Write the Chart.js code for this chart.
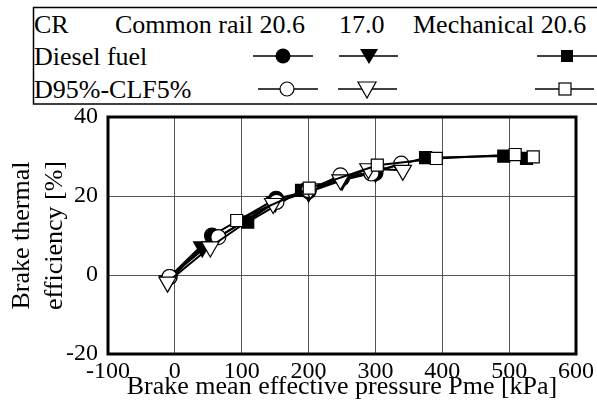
<!DOCTYPE html>
<html>
<head>
<meta charset="utf-8">
<script src="https://cdn.jsdelivr.net/npm/chart.js@4.4.0/dist/chart.umd.min.js"></script>
<style>
    html, body { margin: 0; padding: 0; background: #fff; }
    #wrap { position: relative; width: 597px; height: 403px; }
    #chart { position: absolute; left: 0; top: 0; }
    #legend { position: absolute; left: 0; top: 0; }
    #legend text { font-family: "Liberation Serif", "Times New Roman", serif; font-size: 26px; fill: #000; }
</style>
</head>
<body>
<div id="wrap">
    <canvas id="chart" width="597" height="403"></canvas>
    <svg id="legend" width="597" height="110" xmlns="http://www.w3.org/2000/svg">
        <rect x="33.5" y="7.5" width="570" height="96.5" fill="#fff" stroke="#000" stroke-width="1.5"/>
        <text x="34" y="24" dominant-baseline="central">CR</text>
        <text x="115" y="24" dominant-baseline="central">Common rail 20.6</text>
        <text x="339" y="24" dominant-baseline="central">17.0</text>
        <text x="413" y="24" dominant-baseline="central">Mechanical 20.6</text>
        <text x="34" y="56" dominant-baseline="central">Diesel fuel</text>
        <text x="34" y="89" dominant-baseline="central">D95%-CLF5%</text>
        <!-- row 2: diesel fuel samples -->
        <line x1="253" y1="56" x2="313" y2="56" stroke="#000" stroke-width="1.5"/>
        <circle cx="283" cy="56" r="7.5" fill="#000"/>
        <line x1="339" y1="56" x2="398" y2="56" stroke="#000" stroke-width="1.5"/>
        <polygon points="360,49 378,49 369,64" fill="#000"/>
        <line x1="537" y1="56" x2="597" y2="56" stroke="#000" stroke-width="1.5"/>
        <rect x="561" y="50" width="12" height="12" fill="#000"/>
        <!-- row 3: blend samples -->
        <line x1="258" y1="89" x2="318" y2="89" stroke="#000" stroke-width="1.5"/>
        <circle cx="287" cy="89" r="7" fill="#fff" stroke="#000" stroke-width="1.2"/>
        <line x1="338" y1="89" x2="397" y2="89" stroke="#000" stroke-width="1.5"/>
        <polygon points="358,82 376,82 367,98" fill="#fff" stroke="#000" stroke-width="1.2"/>
        <line x1="535" y1="89" x2="594" y2="89" stroke="#000" stroke-width="1.5"/>
        <rect x="559" y="83" width="12" height="12" fill="#fff" stroke="#000" stroke-width="1.2"/>
    </svg>
</div>
<script>
// Brake mean effective pressure [kPa] and brake thermal efficiency [%]
const dieselCrX = [-8, 55.5, 151.5, 200, 250, 300];
const dieselCrY = [-0.5, 10, 19.3, 21.2, 24.5, 25.8];
const diesel17X = [-10, 41, 150, 200, 250, 300];
const diesel17Y = [-1.5, 7.1, 18.5, 21, 24, 26];
const dieselMechX = [109, 189.5, 375, 492, 526];
const dieselMechY = [13.4, 21.4, 29.7, 30.1, 29.5];
const blendCrX = [-8, 65, 152, 200, 247.6, 294, 338.6];
const blendCrY = [-0.5, 9.6, 18.5, 21.5, 25.2, 25.7, 28.2];
const blend17X = [-11, 53, 147, 203, 247.6, 289.5, 341];
const blend17Y = [-1.8, 7.1, 18.1, 21.8, 24.1, 26.9, 26.5];
const blendMechX = [92.5, 201, 302.8, 391, 509, 536];
const blendMechY = [13.8, 22, 27.8, 29.5, 30.5, 29.9];

const xTicks = [-100, 0, 100, 200, 300, 400, 500, 600];
const yTicks = [-20, 0, 20, 40];

const serif = '"Liberation Serif", "Times New Roman", serif';

function toPoints(xs, ys) {
    return xs.map((x, i) => ({ x, y: ys[i] }));
}

function series(label, xs, ys, style, filled, order) {
    return {
        label,
        data: toPoints(xs, ys),
        borderColor: '#000',
        borderWidth: 2,
        pointStyle: style.shape,
        pointRotation: style.rotation || 0,
        pointRadius: style.radius,
        pointBorderWidth: 1.2,
        pointBorderColor: '#000',
        pointBackgroundColor: filled ? '#000' : '#fff',
        showLine: true,
        fill: false,
        tension: 0,
        order
    };
}

const circle = { shape: 'circle', radius: 7.5 };
const triangle = { shape: 'triangle', rotation: 180, radius: 10 };
const square = { shape: 'rect', radius: 8.5 };

// Thick frame around the plot area
const frame = {
    id: 'frame',
    beforeDatasetsDraw(chart) {
        const { ctx, chartArea: a } = chart;
        ctx.save();
        ctx.strokeStyle = '#000';
        ctx.lineWidth = 3;
        ctx.strokeRect(a.left, a.top, a.right - a.left, a.bottom - a.top);
        ctx.restore();
    }
};

// lower order is drawn on top: open squares, then open triangles, then open circles
new Chart(document.getElementById('chart'), {
    type: 'scatter',
    data: {
        datasets: [
            series('Diesel fuel CR 20.6', dieselCrX, dieselCrY, circle, true, 6),
            series('Diesel fuel CR 17.0', diesel17X, diesel17Y, triangle, true, 5),
            series('Diesel fuel Mechanical 20.6', dieselMechX, dieselMechY, square, true, 4),
            series('D95%-CLF5% CR 20.6', blendCrX, blendCrY, circle, false, 3),
            series('D95%-CLF5% CR 17.0', blend17X, blend17Y, triangle, false, 2),
            series('D95%-CLF5% Mechanical 20.6', blendMechX, blendMechY, square, false, 1)
        ]
    },
    options: {
        responsive: false,
        animation: false,
        layout: { padding: { top: 117, right: 15, left: 0, bottom: 0 } },
        plugins: {
            legend: { display: false },
            tooltip: { enabled: false }
        },
        scales: {
            x: {
                type: 'linear',
                min: -100,
                max: 600,
                afterBuildTicks: scale => { scale.ticks = xTicks.map(v => ({ value: v })); },
                afterFit: scale => { scale.height = 49; },
                grid: { color: '#555', lineWidth: 1, drawTicks: false },
                border: { display: false },
                ticks: { color: '#000', padding: 3, font: { family: serif, size: 24 } },
                title: {
                    display: true,
                    text: 'Brake mean effective pressure Pme [kPa]',
                    color: '#000',
                    font: { family: serif, size: 26 },
                    padding: { top: 0, bottom: 0 }
                }
            },
            y: {
                type: 'linear',
                min: -20,
                max: 40,
                afterBuildTicks: scale => { scale.ticks = yTicks.map(v => ({ value: v })); },
                afterFit: scale => { scale.width = 108; },
                grid: { color: '#555', lineWidth: 1, drawTicks: false },
                border: { display: false },
                ticks: { color: '#000', padding: 10, font: { family: serif, size: 24 } },
                title: {
                    display: true,
                    text: ['Brake thermal', 'efficiency [%]'],
                    color: '#000',
                    font: { family: serif, size: 26, lineHeight: 1.27 },
                    padding: { top: 5.5, bottom: 0 }
                }
            }
        }
    },
    plugins: [frame]
});
</script>
</body>
</html>
